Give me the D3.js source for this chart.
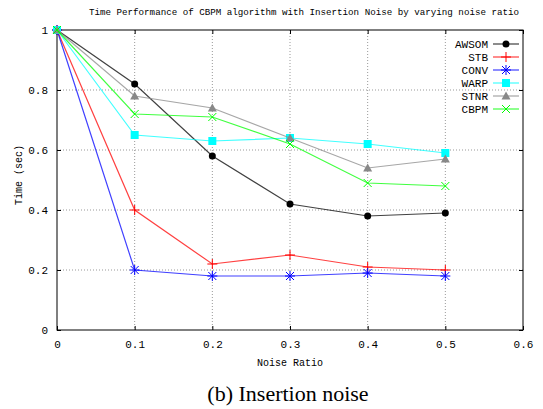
<!DOCTYPE html>
<html>
<head>
<meta charset="utf-8">
<script src="https://cdn.jsdelivr.net/npm/d3@7"></script>
<style>
  html, body { margin: 0; padding: 0; background: #fff; }
  svg { display: block; }
</style>
</head>
<body>
<div id="chart"></div>
<script>
// Data
const noiseRatios = [0, 0.1, 0.2, 0.3, 0.4, 0.5];
const awsom = [1, 0.82, 0.58, 0.42, 0.38, 0.39];
const stb   = [1, 0.40, 0.22, 0.25, 0.21, 0.20];
const conv  = [1, 0.20, 0.18, 0.18, 0.19, 0.18];
const warp  = [1, 0.65, 0.63, 0.64, 0.62, 0.59];
const stnr  = [1, 0.78, 0.74, 0.64, 0.54, 0.57];
const cbpm  = [1, 0.72, 0.71, 0.62, 0.49, 0.48];
const xTicks = [0, 0.1, 0.2, 0.3, 0.4, 0.5, 0.6];
const yTicks = [0, 0.2, 0.4, 0.6, 0.8, 1];

const seriesList = [
    { name: "AWSOM", values: awsom, color: "#000000", marker: "circle" },
    { name: "STB",   values: stb,   color: "#ff0000", marker: "plus" },
    { name: "CONV",  values: conv,  color: "#0000ff", marker: "star" },
    { name: "WARP",  values: warp,  color: "#00ffff", marker: "square" },
    { name: "STNR",  values: stnr,  color: "#888888", marker: "triangle" },
    { name: "CBPM",  values: cbpm,  color: "#00ff00", marker: "cross" }
];

const width = 543, height = 409;
const margin = { top: 30, right: 20, bottom: 79, left: 57 };
const chartWidth = width - margin.left - margin.right;
const chartHeight = height - margin.top - margin.bottom;
const monoFont = "'Liberation Mono', 'DejaVu Sans Mono', monospace";

const svg = d3.select("#chart").append("svg")
    .attr("width", width)
    .attr("height", height);

const g = svg.append("g")
    .attr("transform", `translate(${margin.left},${margin.top})`);

const xScale = d3.scaleLinear().domain([0, 0.6]).range([0, chartWidth]);
const yScale = d3.scaleLinear().domain([0, 1]).range([chartHeight, 0]);

// Dotted grid
g.append("g")
    .selectAll("line")
    .data(xTicks.slice(1, -1))
    .enter().append("line")
    .attr("x1", d => xScale(d)).attr("x2", d => xScale(d))
    .attr("y1", 0).attr("y2", chartHeight)
    .attr("stroke", "#999").attr("stroke-width", 1)
    .attr("stroke-dasharray", "1,2");

g.append("g")
    .selectAll("line")
    .data(yTicks.slice(1, -1))
    .enter().append("line")
    .attr("x1", 0).attr("x2", chartWidth)
    .attr("y1", d => yScale(d)).attr("y2", d => yScale(d))
    .attr("stroke", "#999").attr("stroke-width", 1)
    .attr("stroke-dasharray", "1,2");

// Axes with inward ticks
const styleAxis = sel => {
    sel.select(".domain").remove();
    sel.selectAll("line").attr("stroke", "#000");
    sel.selectAll("text")
        .attr("fill", "#000")
        .style("font-family", monoFont)
        .style("font-size", "11px");
};

g.append("g")
    .attr("transform", `translate(0,${chartHeight})`)
    .call(d3.axisBottom(xScale).tickValues(xTicks).tickSizeInner(-4).tickSizeOuter(0)
        .tickPadding(10).tickFormat(d => d === 0 ? "0" : d3.format(".1f")(d)))
    .call(styleAxis);

g.append("g")
    .call(d3.axisTop(xScale).tickValues(xTicks).tickSizeInner(-4).tickSizeOuter(0).tickFormat(""))
    .call(styleAxis);

g.append("g")
    .call(d3.axisLeft(yScale).tickValues(yTicks).tickSizeInner(-4).tickSizeOuter(0)
        .tickPadding(9).tickFormat(d => (d === 0 || d === 1) ? String(d) : d3.format(".1f")(d)))
    .call(styleAxis);

g.append("g")
    .attr("transform", `translate(${chartWidth},0)`)
    .call(d3.axisRight(yScale).tickValues(yTicks).tickSizeInner(-4).tickSizeOuter(0).tickFormat(""))
    .call(styleAxis);

// Frame
g.append("rect")
    .attr("width", chartWidth)
    .attr("height", chartHeight)
    .attr("fill", "none")
    .attr("stroke", "#000")
    .attr("stroke-width", 1);

// Markers
function drawMarker(sel, type, color, x, y) {
    if (type === "circle") {
        sel.append("circle").attr("cx", x).attr("cy", y).attr("r", 3.5).attr("fill", color);
    } else if (type === "square") {
        sel.append("rect").attr("x", x - 4).attr("y", y - 4).attr("width", 8).attr("height", 8).attr("fill", color);
    } else if (type === "triangle") {
        sel.append("path").attr("d", `M${x},${y - 4.5}L${x + 4.5},${y + 3.5}L${x - 4.5},${y + 3.5}Z`).attr("fill", color);
    } else if (type === "plus") {
        sel.append("path").attr("d", `M${x - 5},${y}H${x + 5}M${x},${y - 5}V${y + 5}`)
            .attr("stroke", color).attr("stroke-width", 1).attr("fill", "none");
    } else if (type === "cross") {
        sel.append("path").attr("d", `M${x - 4},${y - 4}L${x + 4},${y + 4}M${x - 4},${y + 4}L${x + 4},${y - 4}`)
            .attr("stroke", color).attr("stroke-width", 1).attr("fill", "none");
    } else if (type === "star") {
        sel.append("path").attr("d", `M${x - 4},${y - 4}L${x + 4},${y + 4}M${x - 4},${y + 4}L${x + 4},${y - 4}M${x - 5},${y}H${x + 5}M${x},${y - 5}V${y + 5}`)
            .attr("stroke", color).attr("stroke-width", 1).attr("fill", "none");
    }
}

const line = d3.line()
    .x((d, i) => xScale(noiseRatios[i]))
    .y(d => yScale(d));

seriesList.forEach(s => {
    const sg = g.append("g");
    sg.append("path")
        .datum(s.values)
        .attr("d", line)
        .attr("fill", "none")
        .attr("stroke", s.color)
        .attr("stroke-width", 1.2)
        .attr("opacity", 0.75);
    s.values.forEach((v, i) => drawMarker(sg, s.marker, s.color, xScale(noiseRatios[i]), yScale(v)));
});

// Legend
const legend = g.append("g").attr("transform", `translate(${chartWidth - 90}, 14)`);
seriesList.forEach((s, i) => {
    const ly = i * 13;
    legend.append("text")
        .attr("x", 55)
        .attr("y", ly + 4)
        .attr("text-anchor", "end")
        .style("font-family", monoFont)
        .style("font-size", "11px")
        .text(s.name);
    legend.append("line")
        .attr("x1", 60).attr("x2", 86)
        .attr("y1", ly).attr("y2", ly)
        .attr("stroke", s.color).attr("stroke-width", 1.2).attr("opacity", 0.75);
    drawMarker(legend, s.marker, s.color, 73, ly);
});

// Titles and labels
svg.append("text")
    .attr("x", 304)
    .attr("y", 15)
    .attr("text-anchor", "middle")
    .style("font-family", monoFont)
    .style("font-size", "9.2px")
    .text("Time Performance of CBPM algorithm with Insertion Noise by varying noise ratio");

svg.append("text")
    .attr("x", margin.left + chartWidth / 2)
    .attr("y", 366)
    .attr("text-anchor", "middle")
    .style("font-family", monoFont)
    .style("font-size", "10px")
    .text("Noise Ratio");

svg.append("text")
    .attr("transform", `translate(22, 175) rotate(-90)`)
    .attr("text-anchor", "middle")
    .style("font-family", monoFont)
    .style("font-size", "10px")
    .text("Time (sec)");

svg.append("text")
    .attr("x", 288)
    .attr("y", 401)
    .attr("text-anchor", "middle")
    .style("font-family", "'Liberation Serif', 'Times New Roman', serif")
    .style("font-size", "22px")
    .text("(b) Insertion noise");
</script>
</body>
</html>
